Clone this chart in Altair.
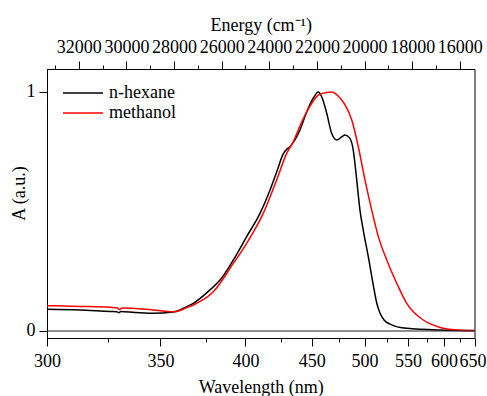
import altair as alt
import pandas as pd

# n-hexane spectrum (wavelength in nm, normalised absorbance)
hex_wl = [300.0, 313.0, 325.9, 329.0, 329.9, 330.8, 337.4, 346.2, 356.6, 360.4,
          364.1, 367.8, 377.5, 383.6, 392.0, 400.8, 410.0, 417.2, 422.1, 427.1,
          430.0, 432.3, 434.9, 437.7, 440.3, 445.8, 451.4, 455.7, 458.7, 463.2,
          467.7, 472.4, 477.1, 480.3, 485.1, 488.4, 491.9, 495.2, 498.7, 504.0,
          509.3, 513.1, 516.7, 521.3, 528.2, 548.5, 594.1, 650.0]
hex_A = [0.091, 0.088, 0.082, 0.081, 0.076, 0.082, 0.077, 0.074, 0.079, 0.088,
         0.102, 0.116, 0.172, 0.213, 0.297, 0.395, 0.492, 0.590, 0.665, 0.741,
         0.762, 0.771, 0.789, 0.813, 0.841, 0.916, 0.974, 1.000, 0.980, 0.911,
         0.827, 0.799, 0.812, 0.820, 0.806, 0.757, 0.632, 0.506, 0.420, 0.310,
         0.192, 0.117, 0.075, 0.046, 0.029, 0.011, 0.004, 0.002]

# methanol spectrum
met_wl = [300.0, 313.0, 325.9, 329.0, 329.9, 331.3, 346.2, 356.6, 360.4, 364.1,
          367.8, 379.5, 392.0, 400.8, 412.3, 422.1, 429.8, 434.9, 440.3, 447.2,
          455.7, 461.7, 467.7, 475.5, 480.3, 486.9, 493.5, 500.4, 507.6, 514.9,
          524.4, 536.2, 548.5, 570.3, 594.1, 619.9, 650.0]
met_A = [0.106, 0.103, 0.099, 0.097, 0.090, 0.096, 0.088, 0.081, 0.086, 0.098,
         0.109, 0.164, 0.283, 0.367, 0.492, 0.632, 0.744, 0.792, 0.858, 0.929,
         0.987, 0.997, 1.000, 0.975, 0.946, 0.883, 0.771, 0.632, 0.506, 0.395,
         0.297, 0.200, 0.116, 0.046, 0.015, 0.004, 0.001]

series = ["n-hexane", "methanol"]
colors = ["#000000", "#ff0000"]

wl_ticks = [300, 325, 350, 375, 400, 425, 450, 475, 500, 525, 550, 575, 600, 625, 650]
energy_ticks = list(range(16000, 33001, 1000))

df = pd.concat([
    pd.DataFrame({"wl": hex_wl, "A": hex_A, "solvent": series[0]}),
    pd.DataFrame({"wl": met_wl, "A": met_A, "solvent": series[1]}),
])

E_MIN = 1e7 / 650.0
E_MAX = 1e7 / 300.0
FONT = "Liberation Serif"

xscale = alt.Scale(domain=[E_MIN, E_MAX], reverse=True, nice=False, zero=False)
yscale = alt.Scale(domain=[-0.0293, 1.0962], nice=False, zero=False)

yaxis = alt.Axis(values=[0, 1], format="d", tickSize=8, labelPadding=4,
                 title="A (a.u.)", titleX=-19, titleY=124)

bottom_axis = alt.Axis(
    orient="bottom",
    values=[1e7 / w for w in wl_ticks],
    labelExpr="round(1e7/datum.value) % 50 == 0 ? '' + round(1e7/datum.value) : ''",
    tickSize={"condition": {"test": "round(1e7/datum.value) % 50 == 0", "value": 8}, "value": 4},
    labelOffset={"condition": {"test": "round(1e7/datum.value) == 650", "value": -2}, "value": 0},
    labelPadding=6,
    labelFlush=False,
    labelOverlap=False,
    title="Wavelength (nm)",
    titlePadding=8,
)

top_axis = alt.Axis(
    orient="top",
    values=energy_ticks,
    labelExpr="datum.value % 2000 == 0 ? '' + datum.value : ''",
    tickSize={"condition": {"test": "datum.value % 2000 == 0", "value": 8}, "value": 4},
    labelPadding=5,
    labelFlush=False,
    labelOverlap=False,
    title="Energy (cm\u207b\u00b9)",
    titlePadding=4,
)

lines = alt.Chart(df).transform_calculate(
    E="1e7 / datum.wl"
).mark_line(strokeWidth=1.5, interpolate="monotone").encode(
    x=alt.X("E:Q", scale=xscale, axis=bottom_axis),
    y=alt.Y("A:Q", scale=yscale, axis=yaxis),
    color=alt.Color(
        "solvent:N",
        scale=alt.Scale(domain=series, range=colors),
        sort=series,
        legend=alt.Legend(
            orient="none", legendX=15, legendY=14, title=None,
            symbolType="stroke", symbolSize=1600, symbolStrokeWidth=1.5,
            labelFont=FONT, labelFontSize=18, labelOffset=5,
            clipHeight=20, rowPadding=0,
        ),
    ),
    detail="solvent:N",
)

zero_df = pd.DataFrame({"x": [E_MIN], "x2": [E_MAX], "y": [0.0]})
zero = alt.Chart(zero_df).mark_rule(color="#222222", strokeWidth=1).encode(
    x=alt.X("x:Q", scale=xscale, axis=top_axis),
    x2="x2:Q",
    y=alt.Y("y:Q", scale=yscale, axis=yaxis),
)

chart = alt.layer(lines, zero).resolve_scale(x="shared").resolve_axis(
    x="independent"
).properties(
    width=427.5, height=269,
    padding={"left": 47, "top": 69, "right": 12, "bottom": 58},
    autosize=alt.AutoSizeParams(type="none"),
    background="white",
).configure_view(
    stroke="#000000", strokeWidth=1
).configure_axis(
    grid=False, domainColor="#000000", tickColor="#000000", labelColor="#000000",
    titleColor="#000000", labelFont=FONT, titleFont=FONT, labelFontSize=18,
    titleFontSize=18, titleFontWeight="normal", domainWidth=1, tickWidth=1,
)

chart.save("out.html", embed_options={"renderer": "svg", "actions": False})
